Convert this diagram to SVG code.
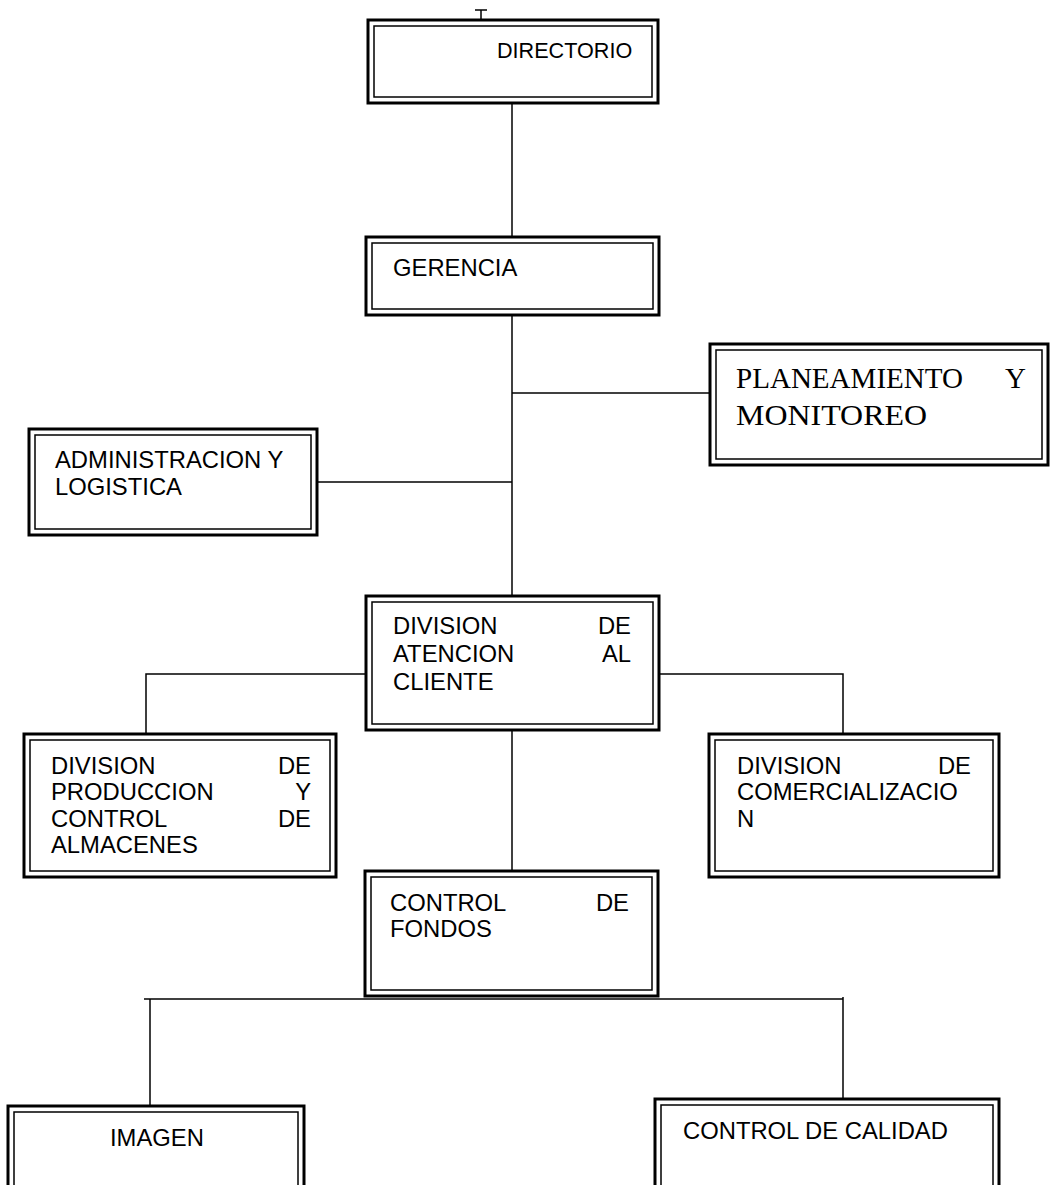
<svg xmlns="http://www.w3.org/2000/svg" width="1050" height="1185" viewBox="0 0 1050 1185">
<style>
.o{fill:#fff;stroke:#000;stroke-width:3}
.i{fill:none;stroke:#000;stroke-width:1.5}
.t{font-family:"Liberation Sans",Arial,sans-serif;font-size:23.8px;fill:#000}
.s{font-family:"Liberation Serif","Times New Roman",serif;font-size:29px;fill:#000}
.c{stroke:#000;stroke-width:1.5;fill:none}
</style>
<rect width="1050" height="1185" fill="#fff"/>
<g id="connectors">
<path class="c" d="M475,10H487M481,10V20"/>
<path class="c" d="M512,103V237"/>
<path class="c" d="M512,315V596"/>
<path class="c" d="M512,393H710"/>
<path class="c" d="M317,482H512"/>
<path class="c" d="M366,674H146V734"/>
<path class="c" d="M659,674H843V734"/>
<path class="c" d="M512,730V871"/>
<path class="c" d="M144,999H843" stroke="#333"/>
<path class="c" d="M150,999V1106"/>
<path class="c" d="M843,997V1099"/>
</g>
<g id="directorio">
<rect class="o" x="368" y="20" width="290" height="83"/>
<rect class="i" x="374" y="26" width="278" height="71"/>
<text class="t" x="497" y="58" style="font-size:21.6px">DIRECTORIO</text>
</g>
<g id="gerencia">
<rect class="o" x="366" y="237" width="293" height="78"/>
<rect class="i" x="372" y="243" width="281" height="66"/>
<text class="t" x="393" y="276">GERENCIA</text>
</g>
<g id="planeamiento">
<rect class="o" x="710" y="344" width="338" height="121"/>
<rect class="i" x="716" y="350" width="326" height="109"/>
<text class="s" x="736" y="388" textLength="227" lengthAdjust="spacingAndGlyphs">PLANEAMIENTO</text>
<text class="s" x="1026" y="388" text-anchor="end">Y</text>
<text class="s" x="736" y="425" textLength="191" lengthAdjust="spacingAndGlyphs">MONITOREO</text>
</g>
<g id="administracion">
<rect class="o" x="29" y="429" width="288" height="106"/>
<rect class="i" x="35" y="435" width="276" height="94"/>
<text class="t" x="55" y="468">ADMINISTRACION Y</text>
<text class="t" x="55" y="495">LOGISTICA</text>
</g>
<g id="atencion">
<rect class="o" x="366" y="596" width="293" height="134"/>
<rect class="i" x="372" y="602" width="281" height="122"/>
<text class="t" x="393" y="634">DIVISION</text>
<text class="t" x="631" y="634" text-anchor="end">DE</text>
<text class="t" x="393" y="662">ATENCION</text>
<text class="t" x="631" y="662" text-anchor="end">AL</text>
<text class="t" x="393" y="690">CLIENTE</text>
</g>
<g id="produccion">
<rect class="o" x="24" y="734" width="312" height="143"/>
<rect class="i" x="30" y="740" width="300" height="131"/>
<text class="t" x="51" y="774">DIVISION</text>
<text class="t" x="311" y="774" text-anchor="end">DE</text>
<text class="t" x="51" y="800">PRODUCCION</text>
<text class="t" x="311" y="800" text-anchor="end">Y</text>
<text class="t" x="51" y="827">CONTROL</text>
<text class="t" x="311" y="827" text-anchor="end">DE</text>
<text class="t" x="51" y="853">ALMACENES</text>
</g>
<g id="comercializacion">
<rect class="o" x="709" y="734" width="290" height="143"/>
<rect class="i" x="715" y="740" width="278" height="131"/>
<text class="t" x="737" y="774">DIVISION</text>
<text class="t" x="971" y="774" text-anchor="end">DE</text>
<text class="t" x="737" y="800">COMERCIALIZACIO</text>
<text class="t" x="737" y="827">N</text>
</g>
<g id="fondos">
<rect class="o" x="365" y="871" width="293" height="125"/>
<rect class="i" x="371" y="877" width="281" height="113"/>
<text class="t" x="390" y="911">CONTROL</text>
<text class="t" x="629" y="911" text-anchor="end">DE</text>
<text class="t" x="390" y="937">FONDOS</text>
</g>
<g id="imagen">
<rect class="o" x="8" y="1106" width="296" height="90"/>
<rect class="i" x="14" y="1112" width="284" height="90"/>
<text class="t" x="110" y="1146">IMAGEN</text>
</g>
<g id="calidad">
<rect class="o" x="655" y="1099" width="344" height="97"/>
<rect class="i" x="661" y="1105" width="332" height="97"/>
<text class="t" x="683" y="1139">CONTROL DE CALIDAD</text>
</g>
</svg>
